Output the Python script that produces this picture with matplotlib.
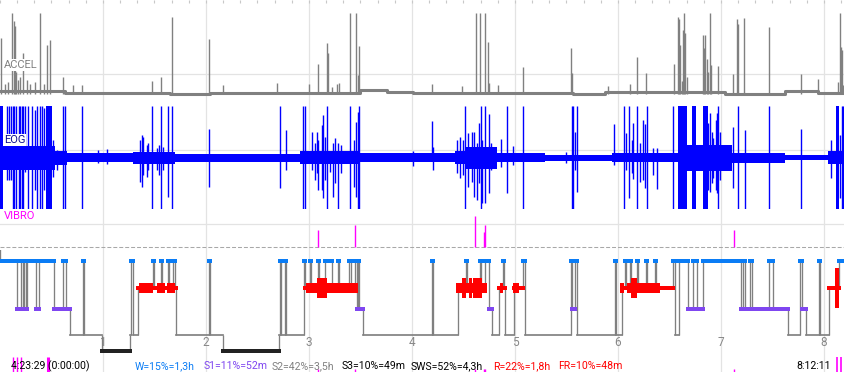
import numpy as np
import matplotlib
matplotlib.use('Agg')
import matplotlib.pyplot as plt

# time axis: hours since start of recording
t_end = 8.204
hour_ticks = [1, 2, 3, 4, 5, 6, 7, 8]

# ---- ACCEL (arbitrary units) ----
accel_base_t = [0.000, 0.631, 1.650, 2.039, 3.495, 3.757, 4.010, 5.563, 5.874, 6.524, 7.039, 7.495, 7.621, 7.942]
accel_base_v = [9.5, 7.0, 6.5, 7.5, 10.5, 8.5, 7.0, 5.7, 8.0, 8.5, 6.5, 6.0, 9.3, 7.0]
accel_spike_t = [0.007, 0.050, 0.080, 0.119, 0.133, 0.146, 0.158, 0.175, 0.197, 0.226,
                 0.262, 0.291, 0.340, 0.391, 0.427, 0.459, 0.488, 0.615, 0.706, 0.793,
                 1.479, 1.566, 1.673, 2.029, 2.162, 2.686, 3.003, 3.090, 3.178, 3.187,
                 3.220, 3.275, 3.288, 3.401, 3.453, 3.476, 3.485, 4.197, 4.483, 4.618,
                 4.663, 4.709, 4.741, 4.750, 4.838, 5.081, 5.544, 5.556, 5.906, 6.117,
                 6.187, 6.272, 6.541, 6.586, 6.595, 6.602, 6.617, 6.634, 6.644, 6.653,
                 6.667, 6.828, 6.838, 6.848, 6.861, 6.877, 6.893, 6.903, 6.974, 7.120,
                 7.158, 7.168, 7.226, 7.469, 7.774, 7.945, 8.133, 8.158, 8.168, 8.178,
                 8.189]
accel_spike_v = [62, 16, 18, 87, 79, 74, 28, 20, 23, 47,
                 20, 16, 18, 87, 16, 55, 60, 23, 15, 15,
                 19, 23, 83, 61, 15, 17, 16, 36, 57, 47,
                 13, 16, 17, 87, 87, 25, 54, 16, 14, 87,
                 87, 87, 58, 17, 15, 33, 52, 27, 14, 16,
                 43, 27, 36, 83, 81, 55, 19, 70, 87, 67,
                 23, 65, 52, 65, 41, 28, 87, 35, 34, 26,
                 81, 76, 82, 73, 26, 21, 18, 87, 53, 50,
                 15]

# ---- EOG ----
eog_band_t = [0.000, 0.534, 0.650, 1.291, 1.699, 2.913, 3.495, 4.417, 4.515, 4.825,
              5.291, 5.942, 6.583, 7.107, 7.621, 8.039]
eog_band_amp = [12, 7, 4.5, 6, 4, 6.5, 4.5, 6.5, 11, 4.5,
                3, 4.5, 13, 5, 2.5, 6.5]
eog_sat_start = [0.000, 0.447, 6.583, 6.718, 6.825, 8.117]
eog_sat_end = [0.026, 0.505, 6.670, 6.757, 6.874, 8.141]
eog_spike_t = [0.068, 0.087, 0.107, 0.126, 0.136, 0.155, 0.189, 0.199, 0.214, 0.223,
               0.243, 0.269, 0.314, 0.340, 0.362, 0.385, 0.408, 0.430, 0.517, 0.550,
               0.615, 0.631, 0.799, 0.954, 1.039, 1.359, 1.376, 1.391, 1.424, 1.440,
               1.479, 1.521, 1.547, 1.566, 1.585, 1.634, 1.673, 2.032, 2.718, 2.774,
               2.945, 2.961, 3.026, 3.058, 3.075, 3.090, 3.123, 3.139, 3.155, 3.178,
               3.204, 3.236, 3.252, 3.279, 3.311, 3.401, 3.437, 3.456, 3.476, 3.488,
               4.013, 4.197, 4.207, 4.434, 4.466, 4.492, 4.517, 4.547, 4.580, 4.605,
               4.628, 4.647, 4.667, 4.683, 4.712, 4.748, 4.764, 4.861, 4.919, 4.984,
               5.081, 5.495, 5.550, 5.566, 5.583, 5.599, 5.964, 6.061, 6.081, 6.110,
               6.133, 6.146, 6.187, 6.217, 6.246, 6.262, 6.279, 6.343, 6.376, 6.537,
               6.683, 6.877, 6.893, 6.910, 6.925, 6.949, 6.964, 6.974, 6.990, 7.055,
               7.119, 7.162, 7.233, 7.469, 7.774, 8.065, 8.155, 8.172, 8.187]
eog_spike_hi = [52, 52, 52, 52, 52, 52, 52, 52, 52, 52,
                52, 52, 52, 48, 52, 52, 52, 50, 18, 8,
                52, 52, 52, 8, 9, 18, 23, 21, 13, 15,
                52, 10, 13, 52, 11, 52, 52, 29, 52, 28,
                52, 52, 26, 15, 26, 18, 33, 43, 21, 52,
                6, 15, 20, 15, 13, 52, 18, 36, 46, 52,
                7, 37, 11, 18, 21, 18, 52, 25, 26, 26,
                15, 35, 52, 18, 52, 44, 15, 19, 52, 12,
                52, 6, 52, 52, 26, 52, 34, 52, 25, 52,
                18, 35, 52, 15, 38, 34, 52, 10, 10, 52,
                7, 35, 45, 26, 20, 38, 45, 52, 26, 6,
                31, 52, 28, 52, 29, 18, 23, 52, 52]
eog_spike_lo = [-22, -22, -22, -51, -51, -51, -51, -51, -51, -51,
                -14, -51, -51, -32, -51, -51, -51, -32, -19, -12,
                -51, -51, -51, -5, -6, -24, -29, -17, -19, -12,
                -51, -12, -17, -51, -12, -39, -51, -29, -30, -12,
                -51, -51, -12, -22, -15, -32, -32, -40, -22, -51,
                -14, -39, -25, -51, -15, -51, -29, -39, -51, -51,
                -8, -2, -12, -15, -20, -17, -51, -29, -24, -39,
                -42, -25, -51, -45, -45, -35, -12, -9, -35, -7,
                -51, -5, -51, -51, -12, -34, -7, -51, -12, -40,
                -15, -21, -51, -24, -22, -30, -51, -17, -31, -51,
                -12, -32, -34, -25, -20, -32, -35, -51, -22, -10,
                -30, -51, -51, -51, -51, -20, -40, -51, -51]

# ---- VIBRO ----
vibro_t = [3.090, 3.450, 4.615, 4.702, 4.712, 7.123]
vibro_v = [17, 22, 31, 15, 22, 17]

# ---- hypnogram ----
hyp_start = [0.000, 0.168, 0.207, 0.220, 0.233, 0.249, 0.262, 0.350, 0.375, 0.528,
             0.615, 0.644, 0.683, 0.803, 0.819, 0.987, 1.259, 1.272, 1.288, 1.343,
             1.485, 1.495, 1.563, 1.573, 1.631, 1.641, 1.680, 1.696, 1.709, 2.026,
             2.039, 2.162, 2.706, 2.715, 2.728, 2.764, 2.777, 2.948, 2.964, 3.006,
             3.019, 3.084, 3.097, 3.155, 3.220, 3.282, 3.294, 3.392, 3.411, 3.450,
             3.463, 3.476, 3.489, 3.521, 4.194, 4.207, 4.443, 4.528, 4.537, 4.663,
             4.673, 4.709, 4.748, 4.780, 4.848, 4.887, 4.896, 4.906, 4.993, 5.074,
             5.100, 5.544, 5.557, 5.583, 5.605, 5.971, 5.984, 6.036, 6.065, 6.078,
             6.113, 6.126, 6.188, 6.197, 6.272, 6.281, 6.362, 6.372, 6.531, 6.557,
             6.592, 6.683, 6.725, 6.770, 6.828, 7.191, 7.210, 7.233, 7.285, 7.298,
             7.466, 7.502, 7.654, 7.767, 7.786, 7.825, 7.951, 7.961, 8.052, 8.142]
hyp_stage = ['W', 'S1', 'W', 'S1', 'W', 'S1', 'W', 'S1', 'W', 'S1',
             'W', 'S1', 'S2', 'W', 'S2', 'S3', 'S2', 'W', 'S2', 'R',
             'W', 'R', 'W', 'R', 'W', 'R', 'W', 'R', 'S2', 'W',
             'S2', 'S3', 'S2', 'W', 'S2', 'W', 'S2', 'W', 'R', 'W',
             'R', 'W', 'R', 'W', 'R', 'W', 'R', 'W', 'R', 'W',
             'S1', 'W', 'S1', 'S2', 'W', 'S2', 'R', 'W', 'R', 'W',
             'R', 'W', 'S1', 'S2', 'R', 'W', 'R', 'S2', 'R', 'W',
             'S2', 'W', 'S1', 'W', 'S2', 'W', 'S2', 'R', 'W', 'R',
             'W', 'R', 'W', 'R', 'W', 'R', 'W', 'R', 'W', 'S2',
             'W', 'S1', 'W', 'S1', 'W', 'S1', 'W', 'S1', 'W', 'S1',
             'W', 'S1', 'S2', 'W', 'S1', 'S2', 'W', 'S2', 'R', 'W']
rem_start = [1.353, 1.521, 1.618, 2.971, 3.074, 4.427, 4.482, 4.557, 4.596, 4.854,
             4.984, 6.019, 6.084, 6.123, 8.107]
rem_end = [1.489, 1.602, 1.699, 3.472, 3.172, 4.725, 4.521, 4.579, 4.676, 4.887,
           5.042, 6.058, 6.408, 6.181, 8.149]
rem_level = [2, 2, 2, 2, 3, 2, 3, 3, 3, 2, 2, 2, 2, 3, 4]

marker_t = [0.131, 0.165, 0.204, 0.466, 8.126, 8.165]

start_label = '4:23:29 (0:00:00)'
end_label = '8:12:11'
stats_labels = ['W=15%=1,3h', 'S1=11%=52m', 'S2=42%=3,5h', 'S3=10%=49m',
                'SWS=52%=4,3h', 'R=22%=1,8h', 'FR=10%=48m']

assert len(eog_spike_t) == len(eog_spike_hi) == len(eog_spike_lo)
assert len(hyp_start) == len(hyp_stage)
assert len(accel_spike_t) == len(accel_spike_v)

# ---- styles ----
W_PX, H_PX = 845, 372
pt = 0.72  # points per pixel at dpi 100
fonts = ['Roboto', 'DejaVu Sans']
c_w, c_s1, c_s2, c_s3, c_r = '#0A7CF5', '#7F46F0', '#808080', '#222222', '#FF0000'
stage_color = {'W': c_w, 'R': c_r, 'S1': c_s1, 'S2': c_s2, 'S3': c_s3}
stage_lw = {'W': 4, 'R': 4, 'S1': 4, 'S2': 1.7, 'S3': 4}
stage_y = {'W': 0.0, 'R': 1.0, 'S1': 1.778, 'S2': 2.741, 'S3': 3.333}
burst_px = {2: 10, 3: 20, 4: 40}


def panel(top_px, bottom_px):
    a = fig.add_axes([0, 1 - bottom_px / H_PX, 1, (bottom_px - top_px) / H_PX])
    a.set_xlim(0, t_end)
    a.axis('off')
    a.patch.set_alpha(0)
    return a


fig = plt.figure(figsize=(W_PX / 100, H_PX / 100), dpi=100)

# background: grid, 10-minute ticks on top, hour numbers
bg = fig.add_axes([0, 0, 1, 1])
bg.set_xlim(0, t_end)
bg.set_ylim(0, 1)
for s in bg.spines.values():
    s.set_visible(False)
bg.set_yticks([])
bg.set_xticks(np.arange(0, t_end, 1 / 6))
bg.tick_params(axis='x', top=True, bottom=False, labelbottom=False, direction='in',
               length=2.5, width=0.8, color='#C8C8C8')
bg.vlines(hour_ticks, 0, 1, color='#E3E3E3', lw=0.9, zorder=0)
for ypx in (74, 150, 224):
    bg.axhline(1 - ypx / H_PX, color='#E3E3E3', lw=0.9, zorder=0)
for h in hour_ticks:
    bg.text(h, 1 - 343 / H_PX, str(h), ha='center', va='center', color='#888888',
            fontsize=8.5, family=fonts)

# ACCEL
ax_acc = panel(0, 100)
ax_acc.set_ylim(0, 100)
ax_acc.step(accel_base_t + [t_end], accel_base_v + [accel_base_v[-1]], where='post',
            color='#808080', lw=2.2)
ax_acc.vlines(accel_spike_t, 6, accel_spike_v, color='#808080', lw=1.0)

# EOG
ax_eog = panel(105, 209)
ax_eog.set_ylim(-51.5, 52.5)
band = np.array(eog_band_amp + [eog_band_amp[-1]])
ax_eog.fill_between(eog_band_t + [t_end], -band, band, step='post', color='#0000FF', lw=0)
for a, b in zip(eog_sat_start, eog_sat_end):
    ax_eog.fill_between([a, b], -51, 52, color='#0000FF', lw=0)
ax_eog.vlines(eog_spike_t, eog_spike_lo, eog_spike_hi, color='#0000FF', lw=1.0)

# VIBRO
ax_vib = panel(200, 250)
ax_vib.set_ylim(-3, 47)
ax_vib.axhline(0, color='#A8A8A8', lw=0.75, ls=(0, (3.8, 1.9)))
ax_vib.vlines(vibro_t, 0, vibro_v, color='#FF00FF', lw=1.0)

# hypnogram
ax_h = panel(250, 360)
ax_h.set_ylim(3.678, -0.396)
ends = hyp_start[1:] + [t_end]
ax_h.vlines(hyp_start[0], -0.5, stage_y[hyp_stage[0]], color='#808080', lw=0.95, zorder=1)
for i in range(1, len(hyp_start)):
    ax_h.vlines(hyp_start[i], stage_y[hyp_stage[i - 1]], stage_y[hyp_stage[i]],
                color='#808080', lw=0.95, zorder=1)
for t0, t1, st in zip(hyp_start, ends, hyp_stage):
    ax_h.hlines(stage_y[st], t0, t1, color=stage_color[st], lw=stage_lw[st] * pt,
                capstyle='projecting', zorder=2)
for t0, t1, lv in zip(rem_start, rem_end, rem_level):
    ax_h.hlines(stage_y['R'], t0, t1, color=c_r, lw=burst_px[lv] * pt,
                capstyle='butt', zorder=3)

# panel labels
fig.text(4 / W_PX, 1 - 65 / H_PX, 'ACCEL', color='#808080', fontsize=8, family=fonts,
         va='center', bbox=dict(facecolor='white', edgecolor='none', pad=0.6))
fig.text(4 / W_PX, 1 - 140 / H_PX, 'EOG', color='#101090', fontsize=8, family=fonts,
         va='center', bbox=dict(facecolor='white', edgecolor='none', pad=0.6))
fig.text(4 / W_PX, 1 - 215.5 / H_PX, 'VIBRO', color='#FF00FF', fontsize=8, family=fonts,
         va='center')

# bottom line: times and stage statistics
y_txt = 1 - 366 / H_PX
fig.text(11 / W_PX, y_txt, start_label, color='black', fontsize=7.6, family=fonts, va='center')
fig.text(796 / W_PX, y_txt, end_label, color='black', fontsize=7.6, family=fonts, va='center')
stats_x = [135, 204, 272, 342, 411, 493, 558]
stats_c = [c_w, c_s1, c_s2, 'black', 'black', c_r, c_r]
for lab, xp, c in zip(stats_labels, stats_x, stats_c):
    fig.text(xp / W_PX, y_txt, lab, color=c, fontsize=7.6, family=fonts, va='center')

bg.vlines(marker_t, 0, 15 / H_PX, color='#FF00FF', lw=[1, 1, 1, 2.2, 1.2, 1.2], zorder=5)
bg.vlines(vibro_t, 0, 3 / H_PX, color='#FF00FF', lw=1, zorder=5)

fig.savefig('out.png', dpi=100)
